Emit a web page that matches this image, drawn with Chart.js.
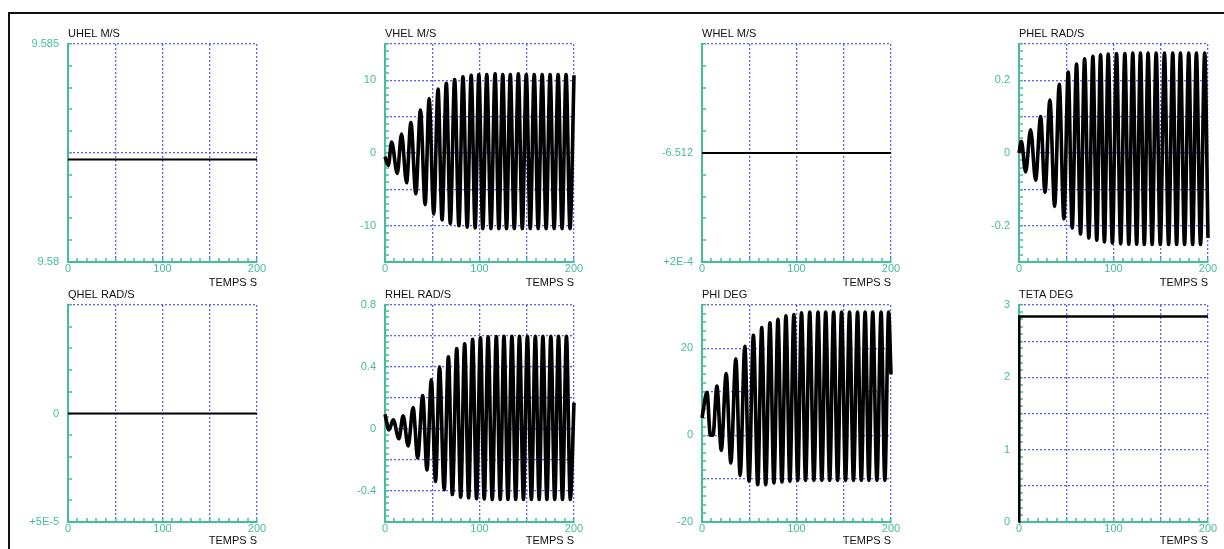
<!DOCTYPE html>
<html lang="fr">
<head>
<meta charset="utf-8">
<title>Simulation - 8 courbes en fonction du temps</title>
<script src="https://cdn.jsdelivr.net/npm/chart.js@4.4.1/dist/chart.umd.min.js"></script>
<style>
  html, body { margin: 0; padding: 0; background: #fff; }
  body { width: 1224px; height: 549px; position: relative; overflow: hidden; }
  #cadre { position: absolute; left: 8px; top: 12px; right: 0; bottom: 0;
           border-top: 2px solid #111; border-left: 2px solid #111; }
  canvas { position: absolute; }
</style>
</head>
<body>
<div id="cadre"></div>
<script>
// ---- Axe X commun (temps) ----
const X_MIN = 0;
const X_MAX = 200;
const X_STEP = 10;
const X_TICK_VALUES = [0, 100, 200];
const X_TICK_LABELS = ['0', '100', '200'];

// ---- UHEL M/S (constant) ----
const UHEL_T = [0, 200];
const UHEL_V = [9.58235, 9.58235];
const UHEL_TICK_VALUES = [9.58, 9.585];
const UHEL_TICK_LABELS = ['9.58', '9.585'];

// ---- VHEL M/S : extremums ----
const VHEL_T = [0, 3.5, 7.0, 13.0, 17.5, 22.8, 27.4, 32.6, 37.5, 42.5, 46.7, 51.6, 56.1, 60.4, 64.9, 69.1,
  73.7, 78.2, 82.5, 87.0, 91.2, 95.4, 99.3, 103.5, 107.7, 112.1, 116.5, 120.5, 124.6, 128.6, 132.6, 136.8,
  141.1, 145.3, 149.5, 153.7, 157.9, 162.1, 166.3, 170.5, 174.7, 179.0, 183.2, 187.4, 191.6, 195.8, 200.0];
const VHEL_V = [-0.5, -1.7, 1.5, -2.8, 2.6, -4.1, 4.2, -5.6, 5.9, -7.1, 7.5, -8.4, 8.8, -9.2, 9.6, -9.7,
  10.1, -10.0, 10.5, -10.2, 10.7, -10.3, 10.8, -10.4, 10.8, -10.4, 10.9, -10.4, 10.8, -10.4, 10.8, -10.4,
  10.9, -10.4, 10.8, -10.4, 10.8, -10.4, 10.8, -10.4, 10.8, -10.4, 10.8, -10.4, 10.8, -10.4, 10.7];
const VHEL_TICK_VALUES = [-10, 0, 10];
const VHEL_TICK_LABELS = ['-10', '0', '10'];

// ---- WHEL M/S (constant) ----
const WHEL_T = [0, 200];
const WHEL_V = [-6.512, -6.512];
const WHEL_TICK_VALUES = [-6.5125, -6.512];
const WHEL_TICK_LABELS = ['+2E-4', '-6.512'];

// ---- PHEL RAD/S ----
const PHEL_T = [0, 2.5, 7.0, 12.3, 17.6, 22.9, 27.5, 32.7, 37.7, 42.6, 47.5, 52.1, 56.3, 60.9, 65.1, 69.4,
  73.9, 78.2, 82.3, 86.3, 90.4, 94.4, 98.8, 103.2, 107.6, 112.0, 116.2, 120.4, 124.5, 128.5, 132.6, 136.6,
  140.9, 145.1, 149.5, 153.9, 158.3, 162.7, 166.8, 170.8, 175.2, 179.6, 183.7, 187.7, 192.1, 196.5, 200.0];
const PHEL_V = [0, 0.032, -0.052, 0.064, -0.075, 0.100, -0.108, 0.146, -0.147, 0.189, -0.181, 0.223, -0.206,
  0.245, -0.223, 0.259, -0.234, 0.266, -0.240, 0.270, -0.245, 0.272, -0.248, 0.274, -0.250, 0.274, -0.251,
  0.275, -0.251, 0.275, -0.252, 0.275, -0.252, 0.275, -0.252, 0.275, -0.252, 0.275, -0.252, 0.275, -0.252,
  0.275, -0.252, 0.275, -0.252, 0.275, -0.234];
const PHEL_TICK_VALUES = [-0.2, 0, 0.2];
const PHEL_TICK_LABELS = ['-0.2', '0', '0.2'];

// ---- QHEL RAD/S (constant) ----
const QHEL_T = [0, 200];
const QHEL_V = [0, 0];
const QHEL_TICK_VALUES = [-0.00005, 0];
const QHEL_TICK_LABELS = ['+5E-5', '0'];

// ---- RHEL RAD/S ----
const RHEL_T = [0, 4.2, 8.7, 14.7, 19.2, 24.5, 29.7, 34.6, 39.9, 44.4, 49.0, 53.5, 57.7, 62.6, 67.1, 71.3,
  75.9, 80.1, 84.3, 88.5, 92.7, 96.9, 101.0, 105.0, 109.1, 113.5, 117.8, 121.9, 125.9, 130.1, 134.3, 138.3,
  142.3, 146.5, 150.7, 154.9, 159.1, 163.1, 167.1, 171.3, 175.5, 179.6, 183.6, 187.8, 192.0, 196.1, 200.0];
const RHEL_V = [0.095, -0.006, 0.060, -0.063, 0.085, -0.110, 0.138, -0.186, 0.216, -0.265, 0.317, -0.339,
  0.402, -0.392, 0.466, -0.423, 0.519, -0.440, 0.550, -0.444, 0.578, -0.449, 0.588, -0.452, 0.595, -0.455,
  0.597, -0.455, 0.598, -0.455, 0.598, -0.455, 0.598, -0.455, 0.598, -0.455, 0.598, -0.455, 0.598, -0.455,
  0.598, -0.455, 0.598, -0.455, 0.598, -0.455, 0.170];
const RHEL_TICK_VALUES = [-0.4, 0, 0.4, 0.8];
const RHEL_TICK_LABELS = ['-0.4', '0', '0.4', '0.8'];

// ---- PHI DEG ----
const PHI_T = [0, 5.3, 8.8, 11.6, 15.8, 20.4, 25.6, 30.5, 35.8, 40.4, 45.3, 49.8, 54.4, 59.0, 63.2, 67.4,
  71.9, 76.1, 80.4, 84.6, 88.8, 93.0, 97.2, 101.3, 105.3, 109.6, 114.0, 118.4, 122.8, 126.8, 130.9, 135.1,
  139.3, 143.5, 147.7, 151.9, 156.1, 160.3, 164.6, 168.6, 172.6, 176.6, 180.7, 185.1, 189.5, 193.5, 197.5, 200.0];
const PHI_V = [4, 9.9, 0, 0, 11.3, -3.5, 14.2, -6.4, 17.6, -9.3, 20.5, -10.6, 23.0, -11.4, 24.8, -11.4,
  25.9, -11.0, 26.7, -10.8, 27.5, -10.6, 27.8, -10.4, 28.2, -10.4, 28.4, -10.4, 28.4, -10.4, 28.4, -10.4,
  28.4, -10.4, 28.4, -10.4, 28.4, -10.4, 28.4, -10.4, 28.4, -10.4, 28.4, -10.4, 28.4, -10.4, 28.4, 14.0];
const PHI_TICK_VALUES = [-20, 0, 20];
const PHI_TICK_LABELS = ['-20', '0', '20'];

// ---- TETA DEG ----
const TETA_T = [0, 0.3, 200];
const TETA_V = [0, 2.84, 2.84];
const TETA_TICK_VALUES = [0, 1, 2, 3];
const TETA_TICK_LABELS = ['0', '1', '2', '3'];

// ---- Mise en page ----
const TEAL = '#45bd9b';
const GRID_BLUE = 'rgb(95, 95, 250)';
const FONT = "'Liberation Sans', Arial, Helvetica, sans-serif";
const COL_LEFT = [68, 385, 702, 1019];
const ROW_TOP = [44, 305];
const PLOT_W = 189;
const PLOT_H = [218, 217];
const PAD_LEFT = 60, PAD_TOP = 30, PAD_RIGHT = 20, PAD_BOTTOM = 30;
const XTITLE_PAD = [2.4, 4.9];

const PANELS = [
  { title: 'UHEL M/S',   t: UHEL_T, v: UHEL_V, min: 9.58, max: 9.585, step: 0.0005, tv: UHEL_TICK_VALUES, tl: UHEL_TICK_LABELS, smooth: false, lw: 2 },
  { title: 'VHEL M/S',   t: VHEL_T, v: VHEL_V, min: -15, max: 15, step: 1, tv: VHEL_TICK_VALUES, tl: VHEL_TICK_LABELS, smooth: true, lw: 3.6 },
  { title: 'WHEL M/S',   t: WHEL_T, v: WHEL_V, min: -6.5125, max: -6.5115, step: 0.0001, tv: WHEL_TICK_VALUES, tl: WHEL_TICK_LABELS, smooth: false, lw: 2 },
  { title: 'PHEL RAD/S', t: PHEL_T, v: PHEL_V, min: -0.3, max: 0.3, step: 0.02, tv: PHEL_TICK_VALUES, tl: PHEL_TICK_LABELS, smooth: true, lw: 3.6 },
  { title: 'QHEL RAD/S', t: QHEL_T, v: QHEL_V, min: -0.00005, max: 0.00005, step: 0.00001, tv: QHEL_TICK_VALUES, tl: QHEL_TICK_LABELS, smooth: false, lw: 2 },
  { title: 'RHEL RAD/S', t: RHEL_T, v: RHEL_V, min: -0.6, max: 0.8, step: 0.04, tv: RHEL_TICK_VALUES, tl: RHEL_TICK_LABELS, smooth: true, lw: 3.6 },
  { title: 'PHI DEG',    t: PHI_T,  v: PHI_V,  min: -20, max: 30, step: 2, tv: PHI_TICK_VALUES, tl: PHI_TICK_LABELS, smooth: true, lw: 3.6 },
  { title: 'TETA DEG',   t: TETA_T, v: TETA_V, min: 0, max: 3, step: 0.1, tv: TETA_TICK_VALUES, tl: TETA_TICK_LABELS, smooth: false, lw: 2.5 }
];

Chart.defaults.font.family = FONT;
Chart.defaults.font.size = 11;

// libelle seulement aux valeurs listees
function labelFor(values, labels, v, step) {
  for (let i = 0; i < values.length; i++) {
    if (Math.abs(values[i] - v) < step / 2) return labels[i];
  }
  return '';
}

// grille pointillee tous les 5 pas, petites graduations vers l'interieur
function gridOpts() {
  return {
    color: GRID_BLUE,
    lineWidth: ctx => (ctx.index % 5 === 0 ? 1.3 : 0),
    tickLength: -4,
    tickColor: TEAL,
    tickWidth: 1.5
  };
}

function buildPanel(p, index) {
  const col = index % 4;
  const row = Math.floor(index / 4);
  const canvas = document.createElement('canvas');
  canvas.width = PAD_LEFT + PLOT_W + PAD_RIGHT;
  canvas.height = PAD_TOP + PLOT_H[row] + PAD_BOTTOM;
  canvas.style.left = (COL_LEFT[col] - PAD_LEFT) + 'px';
  canvas.style.top = (ROW_TOP[row] - PAD_TOP) + 'px';
  document.body.appendChild(canvas);

  const points = p.t.map((t, i) => ({ x: t, y: p.v[i] }));

  new Chart(canvas.getContext('2d'), {
    type: 'line',
    data: {
      datasets: [{
        data: points,
        borderColor: '#000',
        borderWidth: p.lw,
        pointRadius: 0,
        fill: false,
        clip: false,
        tension: 0,
        cubicInterpolationMode: p.smooth ? 'monotone' : 'default'
      }]
    },
    options: {
      responsive: false,
      animation: false,
      events: [],
      layout: { padding: { left: 0, top: 0, right: PAD_RIGHT, bottom: 0 } },
      plugins: {
        legend: { display: false },
        tooltip: { enabled: false },
        title: {
          display: true,
          text: p.title,
          align: 'start',
          fullSize: false,
          color: '#111',
          font: { size: 11, weight: 'normal' },
          padding: { top: 13, bottom: 3.8 }
        }
      },
      scales: {
        x: {
          type: 'linear',
          min: X_MIN,
          max: X_MAX,
          afterFit: s => { s.height = PAD_BOTTOM; },
          ticks: {
            stepSize: X_STEP,
            maxTicksLimit: 1000,
            autoSkip: false,
            maxRotation: 0,
            padding: 4,
            color: TEAL,
            callback: v => labelFor(X_TICK_VALUES, X_TICK_LABELS, v, X_STEP)
          },
          grid: gridOpts(),
          border: { color: TEAL, width: 2, dash: [2, 2] },
          title: {
            display: true,
            text: 'TEMPS S',
            align: 'end',
            color: '#111',
            font: { size: 11 },
            padding: { top: 0, bottom: XTITLE_PAD[row] }
          }
        },
        y: {
          type: 'linear',
          min: p.min,
          max: p.max,
          afterFit: s => { s.width = PAD_LEFT; },
          ticks: {
            stepSize: p.step,
            maxTicksLimit: 1000,
            autoSkip: false,
            padding: 13,
            color: TEAL,
            callback: v => labelFor(p.tv, p.tl, v, p.step)
          },
          grid: gridOpts(),
          border: { color: TEAL, width: 2, dash: [2, 2] }
        }
      }
    }
  });
}

PANELS.forEach(buildPanel);
</script>
</body>
</html>
